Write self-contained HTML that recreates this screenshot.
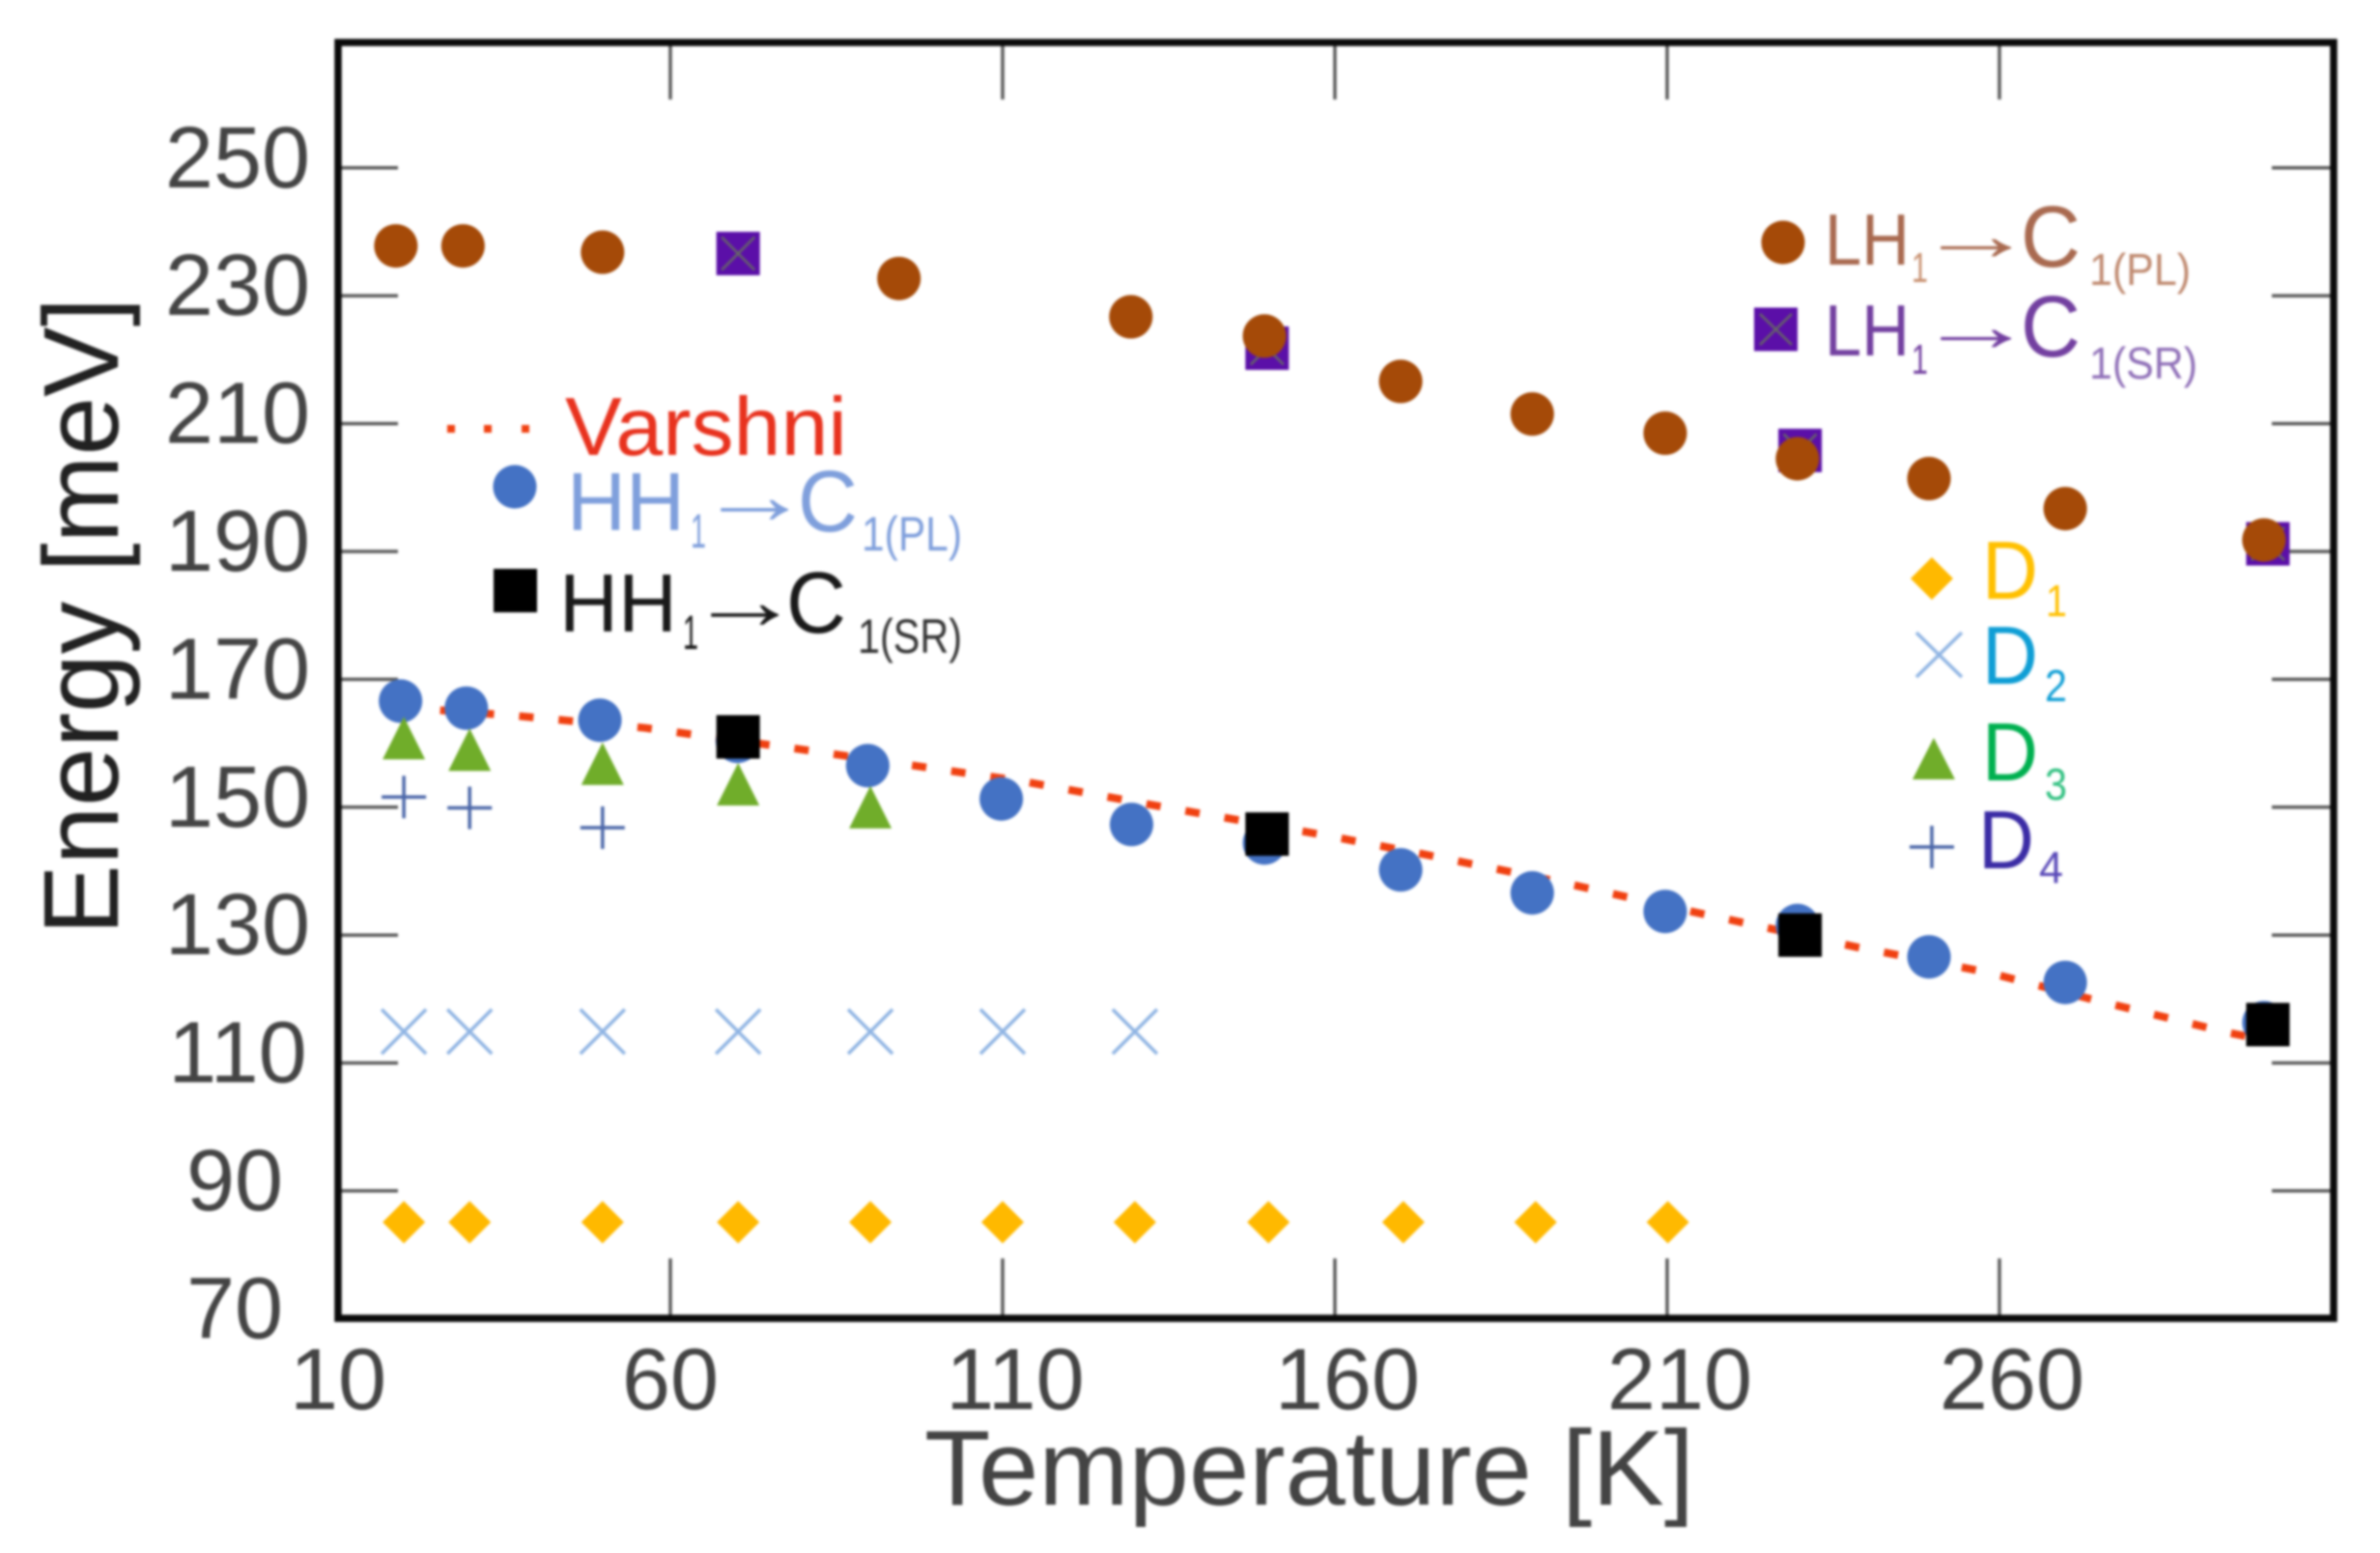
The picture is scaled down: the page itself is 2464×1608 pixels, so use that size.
<!DOCTYPE html>
<html lang="en">
<head>
<meta charset="utf-8">
<title>Energy vs Temperature</title>
<style>
html,body{margin:0;padding:0;background:#fff;width:2464px;height:1608px;overflow:hidden}
svg{display:block;filter:blur(1.4px)}
text{font-family:"Liberation Sans",sans-serif}
</style>
</head>
<body>
<svg id="chart" xmlns="http://www.w3.org/2000/svg" width="2464" height="1608" viewBox="0 0 2464 1608">
  <rect x="0" y="0" width="2464" height="1608" fill="#fff"/>
  <g id="ticks"></g>
  <g id="marks"></g>
  <rect x="350" y="44" width="2066" height="1321" fill="none" stroke="#0a0a0a" stroke-width="7.5"/>
  <g id="tick-labels" fill="#444" font-size="90"></g>

  <text x="957" y="1558" font-size="110" fill="#444" textLength="797" lengthAdjust="spacingAndGlyphs">Temperature [K]</text>
  <text transform="translate(122,968) rotate(-90)" font-size="110" fill="#222" textLength="660" lengthAdjust="spacingAndGlyphs">Energy [meV]</text>

  <g>
    <g>
      <rect x="463" y="440" width="8" height="8" fill="#f04010"/>
      <rect x="501" y="440" width="8" height="8" fill="#f04010"/>
      <rect x="540" y="440" width="8" height="8" fill="#f04010"/>
      <text x="585" y="471" font-size="85" fill="#e8321e" textLength="292" lengthAdjust="spacingAndGlyphs">Varshni</text>
    </g>
    <g fill="#7f9fdc">
      <circle cx="533" cy="504" r="22.5" fill="#4472c4"/>
      <text x="587" y="549" font-size="85" textLength="122" lengthAdjust="spacingAndGlyphs">HH</text>
      <text x="715" y="567" font-size="50" textLength="16" lengthAdjust="spacingAndGlyphs">1</text>
      <text x="722" y="542" font-size="85" textLength="118" lengthAdjust="spacingAndGlyphs">→</text>
      <text x="826" y="550" font-size="90" textLength="62" lengthAdjust="spacingAndGlyphs">C</text>
      <text x="892" y="570" font-size="50" textLength="104" lengthAdjust="spacingAndGlyphs">1(PL)</text>
    </g>
    <g fill="#1a1a1a">
      <rect x="511" y="589" width="45" height="45" fill="#000"/>
      <text x="579" y="654" font-size="85" textLength="122" lengthAdjust="spacingAndGlyphs">HH</text>
      <text x="707" y="672" font-size="50" textLength="16" lengthAdjust="spacingAndGlyphs">1</text>
      <text x="712" y="651" font-size="85" textLength="118" lengthAdjust="spacingAndGlyphs">→</text>
      <text x="814" y="655" font-size="90" textLength="62" lengthAdjust="spacingAndGlyphs">C</text>
      <text x="888" y="676" font-size="50" textLength="108" lengthAdjust="spacingAndGlyphs" fill="#333">1(SR)</text>
    </g>
  </g>

  <g>
    <g fill="#a96a50">
      <circle cx="1846" cy="251" r="22.5" fill="#a54a08"/>
      <text x="1889" y="274" font-size="75" textLength="88" lengthAdjust="spacingAndGlyphs">LH</text>
      <text x="1979" y="292" font-size="44" textLength="17" lengthAdjust="spacingAndGlyphs" fill="#c89070">1</text>
      <text x="1984" y="269" font-size="75" textLength="123" lengthAdjust="spacingAndGlyphs">→</text>
      <text x="2092" y="276" font-size="90" textLength="62" lengthAdjust="spacingAndGlyphs">C</text>
      <text x="2163" y="295" font-size="46" textLength="105" lengthAdjust="spacingAndGlyphs" fill="#c08a70">1(PL)</text>
    </g>
    <g fill="#7340a0">
      <rect x="1816" y="318.500" width="45" height="45" fill="#5b0fa8"/>
      <path d="M1822 325L1855 357M1855 325L1822 357" stroke="#666" stroke-width="2.500" fill="none"/>
      <text x="1889" y="368" font-size="75" textLength="88" lengthAdjust="spacingAndGlyphs">LH</text>
      <text x="1979" y="387" font-size="44" textLength="17" lengthAdjust="spacingAndGlyphs">1</text>
      <text x="1984" y="363" font-size="75" textLength="123" lengthAdjust="spacingAndGlyphs">→</text>
      <text x="2092" y="369" font-size="90" textLength="62" lengthAdjust="spacingAndGlyphs">C</text>
      <text x="2163" y="392" font-size="46" textLength="112" lengthAdjust="spacingAndGlyphs" fill="#9070b8">1(SR)</text>
    </g>
  </g>

  <g>
    <g fill="#ffc000">
      <polygon points="1978,599 2000,577 2022,599 2000,621" fill="#ffb900"/>
      <text x="2052" y="620" font-size="85" textLength="58" lengthAdjust="spacingAndGlyphs">D</text>
      <text x="2118" y="638" font-size="46" textLength="22" lengthAdjust="spacingAndGlyphs">1</text>
    </g>
    <g fill="#0f9ed5">
      <path d="M1984 655L2031 701M2031 655L1984 701" stroke="#8fb4e3" stroke-width="3.500" fill="none"/>
      <text x="2052" y="708" font-size="85" textLength="58" lengthAdjust="spacingAndGlyphs">D</text>
      <text x="2117" y="726" font-size="46" textLength="23" lengthAdjust="spacingAndGlyphs">2</text>
    </g>
    <g fill="#00b050">
      <polygon points="2002,764 2024,807 1980,807" fill="#70ad2a"/>
      <text x="2052" y="808" font-size="85" textLength="58" lengthAdjust="spacingAndGlyphs">D</text>
      <text x="2117" y="828" font-size="46" textLength="23" lengthAdjust="spacingAndGlyphs" fill="#30c080">3</text>
    </g>
    <g fill="#3b2ca5">
      <path d="M1977 877L2023 877M2000 855L2000 899" stroke="#4a66a8" stroke-width="3.500" fill="none"/>
      <text x="2048" y="899" font-size="85" textLength="58" lengthAdjust="spacingAndGlyphs">D</text>
      <text x="2111" y="914" font-size="46" textLength="25" lengthAdjust="spacingAndGlyphs" fill="#5a4ab8">4</text>
    </g>
  </g>
</svg>

<script>
const xTickValues = [10, 60, 110, 160, 210, 260];
const yTickValues = [70, 90, 110, 130, 150, 170, 190, 210, 230, 250];

const varshniT = [19.5, 22.5, 36.7, 56.2, 77.9, 112.8, 133.8, 158.1, 173.6, 193, 213.6, 238.6, 258.1, 274.1, 294.6, 298];
const varshniE = [166.2, 165.4, 164.3, 162.4, 159.3, 154.1, 150.1, 145.7, 142.6, 138.5, 133.7, 128.1, 124.2, 119.9, 114.7, 114];

const lhPlT = [18.7, 28.8, 49.8, 94.4, 129.3, 149.4, 169.9, 189.7, 209.7, 229.6, 249.4, 269.9, 299.8];
const lhPlE = [237.8, 237.8, 236.8, 232.7, 226.7, 223.7, 216.6, 211.5, 208.5, 204.5, 201.4, 196.7, 191.8];

const lhSrT = [70.2, 149.8, 230, 300.4];
const lhSrE = [236.6, 221.8, 205.8, 191.2];

const hhPlT = [19.4, 29.3, 49.4, 70.1, 89.7, 109.8, 129.4, 149.4, 169.9, 189.7, 209.7, 229.6, 249.4, 269.9, 299.8];
const hhPlE = [166.6, 165.5, 163.6, 160.3, 156.5, 151.3, 147.3, 144.4, 140.2, 136.6, 133.7, 131.5, 126.6, 122.6, 116.3];

const hhSrT = [70.2, 149.8, 230, 300.4];
const hhSrE = [161, 145.8, 130, 116];

const d1T = [19.9, 29.8, 49.8, 70.2, 90.1, 110, 129.9, 150, 170.3, 190.2, 210.1];
const d1E = [85.1, 85.1, 85.1, 85.1, 85.1, 85.1, 85.1, 85.1, 85.1, 85.1, 85.1];

const d2T = [19.9, 29.8, 49.8, 70.2, 90.1, 110, 129.9];
const d2E = [114.9, 114.9, 114.9, 114.9, 114.9, 114.9, 114.9];

const d3T = [19.9, 29.8, 49.8, 70.2, 90.1];
const d3E = [160.8, 159, 156.8, 153.6, 150];

const d4T = [19.9, 29.8, 49.8];
const d4E = [151.6, 149.9, 146.8];

const NS = 'http://www.w3.org/2000/svg';
const ticksLayer = document.getElementById('ticks');
const marksLayer = document.getElementById('marks');
const labelsLayer = document.getElementById('tick-labels');

function xScale(t) { return 350 + (t - 10) * 6.88; }
function yScale(e) { return 1365.4 - (e - 70) * 6.62; }

function drawTickLine(x1, y1, x2, y2, name) {
  const el = document.createElementNS(NS, 'line');
  el.setAttribute('x1', x1);
  el.setAttribute('y1', y1);
  el.setAttribute('x2', x2);
  el.setAttribute('y2', y2);
  el.setAttribute('stroke', '#5a5a5a');
  el.setAttribute('stroke-width', '3.5');
  
  
  ticksLayer.appendChild(el);
}

function drawTickLabel(x, y, str, name) {
  const el = document.createElementNS(NS, 'text');
  el.setAttribute('x', x);
  el.setAttribute('y', y);
  el.setAttribute('text-anchor', 'middle');
  el.textContent = str;
  
  
  labelsLayer.appendChild(el);
}

xTickValues.forEach(function (t) {
  const px = xScale(t);
  if (t > 10) {
    drawTickLine(px, 44, px, 103, 'x-tick-top');
    drawTickLine(px, 1303, px, 1365, 'x-tick-bottom');
  }
  drawTickLabel(px + (t < 100 ? 0 : 13), 1459, String(t), 'x-tick-label');
});

yTickValues.forEach(function (v) {
  const py = yScale(v);
  if (v > 70) {
    drawTickLine(350, py, 412, py, 'y-tick-left');
    drawTickLine(2352, py, 2416, py, 'y-tick-right');
  }
  drawTickLabel(v < 100 ? 243 : 246, py + 20, String(v), 'y-tick-label');
});

function drawVarshni() {
  const el = document.createElementNS(NS, 'path');
  let d = '';
  varshniT.forEach(function (t, i) {
    d += (i === 0 ? 'M' : 'L') + xScale(t).toFixed(1) + ' ' + yScale(varshniE[i]).toFixed(1);
  });
  el.setAttribute('d', d);
  el.setAttribute('fill', 'none');
  el.setAttribute('stroke', '#f04010');
  el.setAttribute('stroke-width', '8');
  el.setAttribute('stroke-dasharray', '15 26');
  
  
  marksLayer.appendChild(el);
}

function drawCircle(t, e, color, name) {
  const el = document.createElementNS(NS, 'circle');
  el.setAttribute('cx', xScale(t));
  el.setAttribute('cy', yScale(e));
  el.setAttribute('r', 22.5);
  el.setAttribute('fill', color);
  
  
  marksLayer.appendChild(el);
}

function drawSquare(t, e, color, name) {
  const el = document.createElementNS(NS, 'rect');
  el.setAttribute('x', xScale(t) - 22.5);
  el.setAttribute('y', yScale(e) - 22.5);
  el.setAttribute('width', 45);
  el.setAttribute('height', 45);
  el.setAttribute('fill', color);
  
  
  marksLayer.appendChild(el);
}

function drawPathMark(t, e, shape, color, name) {
  const cx = xScale(t);
  const cy = yScale(e);
  const el = document.createElementNS(NS, 'path');
  let d = '';
  let filled = true;
  if (shape === 'diamond') {
    d = 'M' + (cx - 22) + ' ' + cy + 'L' + cx + ' ' + (cy - 22) + 'L' + (cx + 22) + ' ' + cy + 'L' + cx + ' ' + (cy + 22) + 'Z';
  } else if (shape === 'triangle') {
    d = 'M' + cx + ' ' + (cy - 22) + 'L' + (cx + 22) + ' ' + (cy + 22) + 'L' + (cx - 22) + ' ' + (cy + 22) + 'Z';
  } else if (shape === 'cross') {
    d = 'M' + (cx - 23) + ' ' + (cy - 23) + 'L' + (cx + 23) + ' ' + (cy + 23) + 'M' + (cx + 23) + ' ' + (cy - 23) + 'L' + (cx - 23) + ' ' + (cy + 23);
    filled = false;
  } else if (shape === 'innerCross') {
    d = 'M' + (cx - 17) + ' ' + (cy - 17) + 'L' + (cx + 17) + ' ' + (cy + 17) + 'M' + (cx + 17) + ' ' + (cy - 17) + 'L' + (cx - 17) + ' ' + (cy + 17);
    filled = false;
  } else {
    d = 'M' + (cx - 23) + ' ' + cy + 'L' + (cx + 23) + ' ' + cy + 'M' + cx + ' ' + (cy - 22) + 'L' + cx + ' ' + (cy + 22);
    filled = false;
  }
  el.setAttribute('d', d);
  el.setAttribute('fill', filled ? color : 'none');
  if (!filled) {
    el.setAttribute('stroke', color);
    el.setAttribute('stroke-width', shape === 'innerCross' ? '2.5' : '3.5');
  }
  
  
  marksLayer.appendChild(el);
}

drawVarshni();
d2T.forEach(function (t, i) { drawPathMark(t, d2E[i], 'cross', '#8fb4e3', 'd2-point'); });
d1T.forEach(function (t, i) { drawPathMark(t, d1E[i], 'diamond', '#ffb900', 'd1-point'); });
d4T.forEach(function (t, i) { drawPathMark(t, d4E[i], 'plus', '#4a66a8', 'd4-point'); });
hhPlT.forEach(function (t, i) { drawCircle(t, hhPlE[i], '#4472c4', 'hh1-c1-pl-point'); });
d3T.forEach(function (t, i) { drawPathMark(t, d3E[i], 'triangle', '#70ad2a', 'd3-point'); });
hhSrT.forEach(function (t, i) { drawSquare(t, hhSrE[i], '#000000', 'hh1-c1-sr-point'); });
lhSrT.forEach(function (t, i) {
  drawSquare(t, lhSrE[i], '#5b0fa8', 'lh1-c1-sr-point');
  drawPathMark(t, lhSrE[i], 'innerCross', '#666666', 'lh1-c1-sr-point-cross');
});
lhPlT.forEach(function (t, i) { drawCircle(t, lhPlE[i], '#a54a08', 'lh1-c1-pl-point'); });
</script>
</body>
</html>
